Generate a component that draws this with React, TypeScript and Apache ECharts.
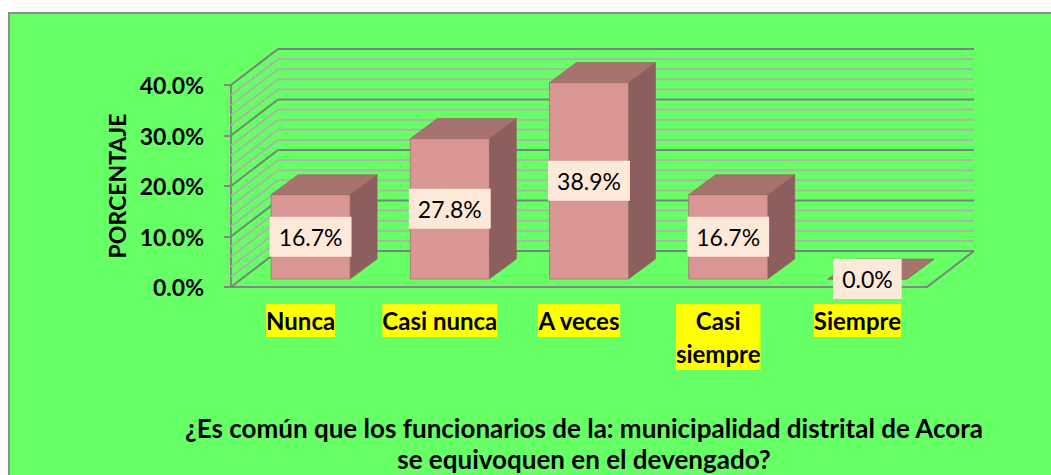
import React, { useEffect, useRef } from "react";
import * as echarts from "echarts";

// ---- data ----
const categories = ["Nunca", "Casi nunca", "A veces", "Casi\nsiempre", "Siempre"];
const percentages = [16.7, 27.8, 38.9, 16.7, 0.0];
const Y_MIN = 0;
const Y_MAX = 40;
const Y_INTERVAL = 10;
const MINOR_STEP = 2;
const axisTitle = "PORCENTAJE";
const titleLines = [
  "¿Es común que los funcionarios de la: municipalidad distrital de Acora",
  "se equivoquen en el devengado?",
];

// ---- styles ----
const FONT = "Lato, 'Open Sans', 'Noto Sans', sans-serif";
const WALL_DX = 47;
const WALL_DY = -36;
const BAR_OFF_X = 10;
const BAR_OFF_Y = -8;
const BAR_DX = 27;
const BAR_DY = -20;
const BAR_WIDTH_RATIO = 0.568;

export default function App() {
  const ref = useRef<HTMLDivElement>(null);

  useEffect(() => {
    document.body.style.margin = "0";
    if (!ref.current) return;
    const chart = echarts.init(ref.current, undefined, { renderer: "svg" });

    const option: any = {
      animation: false,
      backgroundColor: "#ffffff",
      grid: { left: 231, right: 124, top: 85, bottom: 188, containLabel: false },
      graphic: [
        {
          type: "rect",
          z: -10,
          shape: { x: 9, y: 13, width: 1100, height: 500 },
          style: { fill: "#66FF66", stroke: "#8C8C8C", lineWidth: 2 },
        },
        {
          type: "text",
          x: 117,
          y: 186,
          rotation: Math.PI / 2,
          style: {
            text: axisTitle,
            fill: "#000",
            font: `bold 23px ${FONT}`,
            align: "center",
            verticalAlign: "middle",
          },
        },
        {
          type: "text",
          x: 584,
          y: 428,
          style: {
            text: titleLines[0],
            fill: "#000",
            font: `bold 26px ${FONT}`,
            align: "center",
            verticalAlign: "middle",
          },
        },
        {
          type: "text",
          x: 584,
          y: 459,
          style: {
            text: titleLines[1],
            fill: "#000",
            font: `bold 26px ${FONT}`,
            align: "center",
            verticalAlign: "middle",
          },
        },
      ],
      xAxis: {
        type: "category",
        data: categories,
        boundaryGap: true,
        axisLine: { show: true, lineStyle: { color: "#868686", width: 2 } },
        axisTick: { show: false },
        splitLine: { show: false },
        axisLabel: {
          interval: 0,
          margin: 17,
          color: "#000",
          fontFamily: FONT,
          fontWeight: "bold",
          fontSize: 24,
          lineHeight: 33,
          backgroundColor: "#FFFF00",
          padding: [0, 0],
        },
      },
      yAxis: {
        type: "value",
        min: Y_MIN,
        max: Y_MAX,
        interval: Y_INTERVAL,
        axisLine: { show: true, lineStyle: { color: "#868686", width: 2 } },
        axisTick: { show: true, inside: false, length: 7, lineStyle: { color: "#868686", width: 2 } },
        splitLine: { show: false },
        axisLabel: {
          margin: 27,
          color: "#000",
          fontFamily: FONT,
          fontWeight: "bold",
          fontSize: 23,
          formatter: (v: number) => v.toFixed(1) + "%",
        },
      },
      series: [
        {
          type: "custom",
          name: "walls",
          z: 1,
          silent: true,
          data: [[0, 0]],
          renderItem: (params: any, api: any) => {
            const cs = params.coordSys;
            const x0 = cs.x;
            const x1 = cs.x + cs.width;
            const minors: any[] = [];
            const majors: any[] = [];
            for (let v = Y_MIN; v <= Y_MAX + 1e-9; v += MINOR_STEP) {
              const y = api.coord([0, v])[1];
              const isMajor = Math.abs(v % Y_INTERVAL) < 1e-9;
              const style = isMajor
                ? { stroke: "#7F7F7F", lineWidth: 2 }
                : { stroke: "#ABB5A3", lineWidth: 2 };
              const arr = isMajor ? majors : minors;
              arr.push({
                type: "line",
                shape: { x1: x0, y1: y, x2: x0 + WALL_DX, y2: y + WALL_DY },
                style,
              });
              arr.push({
                type: "line",
                shape: { x1: x0 + WALL_DX, y1: y + WALL_DY, x2: x1 + WALL_DX, y2: y + WALL_DY },
                style,
              });
            }
            const yb = api.coord([0, Y_MIN])[1];
            majors.push({
              type: "line",
              shape: { x1: x1, y1: yb, x2: x1 + WALL_DX, y2: yb + WALL_DY },
              style: { stroke: "#7F7F7F", lineWidth: 2 },
            });
            return { type: "group", children: [...minors, ...majors] };
          },
        },
        {
          type: "custom",
          name: "Porcentaje",
          z: 3,
          data: percentages.map((v, i) => [i, v]),
          encode: { x: 0, y: 1 },
          renderItem: (params: any, api: any) => {
            const xi = api.value(0);
            const val = api.value(1);
            const top = api.coord([xi, val]);
            const base = api.coord([xi, 0]);
            const band = api.size([1, 0])[0];
            const w = band * BAR_WIDTH_RATIO;
            const fx = top[0] - w / 2 + BAR_OFF_X;
            const yT = top[1] + BAR_OFF_Y;
            const yB = base[1] + BAR_OFF_Y;
            const edge = "rgba(150,90,90,0.55)";
            return {
              type: "group",
              children: [
                {
                  type: "polygon",
                  shape: {
                    points: [
                      [fx + w, yT],
                      [fx + w + BAR_DX, yT + BAR_DY],
                      [fx + w + BAR_DX, yB + BAR_DY],
                      [fx + w, yB],
                    ],
                  },
                  style: { fill: "#8C5F5E", stroke: edge, lineWidth: 1 },
                },
                {
                  type: "polygon",
                  shape: {
                    points: [
                      [fx, yT],
                      [fx + w, yT],
                      [fx + w + BAR_DX, yT + BAR_DY],
                      [fx + BAR_DX, yT + BAR_DY],
                    ],
                  },
                  style: { fill: "#A6736F", stroke: edge, lineWidth: 1 },
                },
                {
                  type: "rect",
                  shape: { x: fx, y: yT, width: w, height: yB - yT },
                  style: { fill: "#D99694", stroke: edge, lineWidth: 1 },
                },
                {
                  type: "text",
                  z2: 10,
                  x: fx + w / 2,
                  y: (yT + yB) / 2,
                  style: {
                    text: val.toFixed(1) + "%",
                    fill: "#000",
                    font: `23px ${FONT}`,
                    align: "center",
                    verticalAlign: "middle",
                    backgroundColor: "#FDE9D9",
                    padding: [9, 9, 8, 9],
                  },
                },
              ],
            };
          },
        },
      ],
    };

    chart.setOption(option);
    return () => chart.dispose();
  }, []);

  return <div ref={ref} style={{ width: 1051, height: 475 }} />;
}
